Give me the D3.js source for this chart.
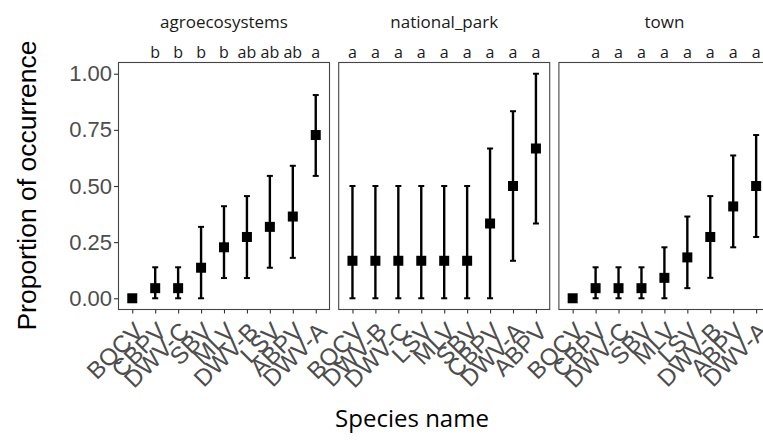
<!DOCTYPE html>
<html>
<head>
<meta charset="utf-8">
<script src="https://cdn.jsdelivr.net/npm/d3@7"></script>
<style>
  html, body { margin: 0; padding: 0; background: #fff; }
  svg { display: block; }
</style>
</head>
<body>
<svg id="chart" width="763" height="441"></svg>
<script>
// Facets (habitat types)
const facets = ["agroecosystems", "national_park", "town"];

// agroecosystems
const agroSpecies = ["BQCV", "CBPV", "DWV-C", "SBV", "MLV", "DWV-B", "LSV", "ABPV", "DWV-A"];
const agroProp    = [0, 0.045, 0.045, 0.136, 0.227, 0.273, 0.318, 0.364, 0.727];
const agroLower   = [0, 0, 0, 0, 0.09, 0.09, 0.136, 0.18, 0.545];
const agroUpper   = [0, 0.138, 0.138, 0.318, 0.41, 0.455, 0.545, 0.59, 0.905];
const agroLetters = ["", "b", "b", "b", "b", "ab", "ab", "ab", "a"];

// national_park
const parkSpecies = ["BQCV", "DWV-B", "DWV-C", "LSV", "MLV", "SBV", "CBPV", "DWV-A", "ABPV"];
const parkProp    = [0.167, 0.167, 0.167, 0.167, 0.167, 0.167, 0.333, 0.5, 0.667];
const parkLower   = [0, 0, 0, 0, 0, 0, 0, 0.167, 0.333];
const parkUpper   = [0.5, 0.5, 0.5, 0.5, 0.5, 0.5, 0.667, 0.833, 1.0];
const parkLetters = ["a", "a", "a", "a", "a", "a", "a", "a", "a"];

// town
const townSpecies = ["BQCV", "CBPV", "DWV-C", "SBV", "MLV", "LSV", "DWV-B", "ABPV", "DWV-A"];
const townProp    = [0, 0.045, 0.045, 0.045, 0.091, 0.182, 0.273, 0.409, 0.5];
const townLower   = [0, 0, 0, 0, 0, 0.045, 0.091, 0.227, 0.273];
const townUpper   = [0, 0.138, 0.138, 0.138, 0.227, 0.364, 0.455, 0.636, 0.727];
const townLetters = ["", "a", "a", "a", "a", "a", "a", "a", "a"];

const yTicks = [0, 0.25, 0.5, 0.75, 1.0];

const panels = [
  { name: facets[0], species: agroSpecies, prop: agroProp, lo: agroLower, hi: agroUpper, letters: agroLetters },
  { name: facets[1], species: parkSpecies, prop: parkProp, lo: parkLower, hi: parkUpper, letters: parkLetters },
  { name: facets[2], species: townSpecies, prop: townProp, lo: townLower, hi: townUpper, letters: townLetters }
];

const svg = d3.select("#chart");
const panelTop = 62.5, panelBottom = 309.5;
const panelW = 211, panelStep = 220.2, firstLeft = 118.5;

const y = d3.scaleLinear().domain([-0.05, 1.05]).range([panelBottom, panelTop]);

const tickColor = "#333333";
const labelColor = "#4D4D4D";
const sansFont = "'Liberation Sans', Arial, sans-serif";
const stripFont = "'Open Sans', sans-serif";

panels.forEach((p, i) => {
  const left = firstLeft + i * panelStep;
  const x = d3.scalePoint().domain(p.species).range([left, left + panelW]).padding(0.6);
  const g = svg.append("g");

  // panel border
  g.append("rect")
    .attr("x", left).attr("y", panelTop)
    .attr("width", panelW).attr("height", panelBottom - panelTop)
    .attr("fill", "none").attr("stroke", "#444").attr("stroke-width", 1.1);

  // x axis
  const xAxis = d3.axisBottom(x).tickSize(4).tickPadding(0).tickFormat("");
  const ax = g.append("g").attr("transform", `translate(0,${panelBottom})`).call(xAxis);
  ax.select(".domain").remove();
  ax.selectAll(".tick line").attr("stroke", tickColor).attr("stroke-width", 1.1);

  // rotated species labels
  g.selectAll(".xlab").data(p.species).enter().append("text")
    .attr("class", "xlab")
    .attr("transform", d => `translate(${x(d)},${panelBottom + 10.5}) rotate(-45)`)
    .attr("text-anchor", "end")
    .attr("dy", "0.74em")
    .attr("font-family", sansFont).attr("font-size", 24)
    .attr("fill", labelColor)
    .text(d => d);

  // strip title
  g.append("text")
    .attr("x", left + panelW / 2).attr("y", 28)
    .attr("text-anchor", "middle")
    .attr("font-family", stripFont).attr("font-size", 17)
    .attr("fill", "#1a1a1a")
    .text(p.name);

  // significance letters
  g.selectAll(".letter").data(p.species).enter().append("text")
    .attr("class", "letter")
    .attr("x", d => x(d)).attr("y", 58)
    .attr("text-anchor", "middle")
    .attr("font-family", stripFont).attr("font-size", 16)
    .attr("fill", "#1a1a1a")
    .text((d, j) => p.letters[j]);

  // error bars
  const bars = g.selectAll(".err").data(p.species).enter().append("g").attr("class", "err");
  bars.append("line")
    .attr("x1", d => x(d)).attr("x2", d => x(d))
    .attr("y1", (d, j) => y(p.lo[j])).attr("y2", (d, j) => y(p.hi[j]))
    .attr("stroke", "#000").attr("stroke-width", 2.4);
  [p.lo, p.hi].forEach(arr => {
    bars.append("line")
      .attr("x1", d => x(d) - 3).attr("x2", d => x(d) + 3)
      .attr("y1", (d, j) => y(arr[j])).attr("y2", (d, j) => y(arr[j]))
      .attr("stroke", "#000").attr("stroke-width", 2);
  });

  // points
  const s = 10;
  g.selectAll(".pt").data(p.species).enter().append("rect")
    .attr("class", "pt")
    .attr("x", d => x(d) - s / 2)
    .attr("y", (d, j) => y(p.prop[j]) - s / 2)
    .attr("width", s).attr("height", s)
    .attr("fill", "#000");

  // y axis on the first panel only
  if (i === 0) {
    const yAxis = d3.axisLeft(y).tickValues(yTicks).tickSize(4.5).tickPadding(2)
      .tickFormat(d3.format(".2f"));
    const ay = g.append("g").attr("transform", `translate(${left},0)`).call(yAxis);
    ay.select(".domain").remove();
    ay.selectAll(".tick line").attr("stroke", tickColor).attr("stroke-width", 1.1);
    ay.selectAll(".tick text")
      .attr("font-family", sansFont).attr("font-size", 22)
      .attr("fill", labelColor);
  }
});

// axis titles
svg.append("text")
  .attr("transform", "translate(36,185.5) rotate(-90)")
  .attr("text-anchor", "middle")
  .attr("font-family", sansFont).attr("font-size", 26.5)
  .attr("fill", "#000")
  .text("Proportion of occurrence");

svg.append("text")
  .attr("x", 412).attr("y", 427)
  .attr("text-anchor", "middle")
  .attr("font-family", stripFont).attr("font-size", 24)
  .attr("fill", "#000")
  .text("Species name");
</script>
</body>
</html>
